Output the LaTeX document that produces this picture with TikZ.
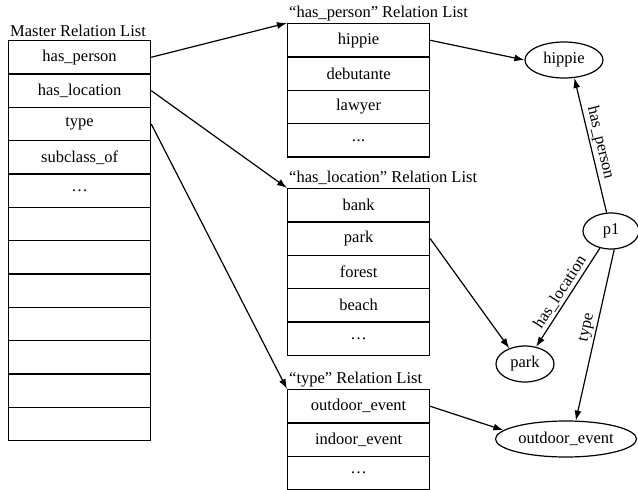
\documentclass[tikz,border=0pt]{standalone}
\usepackage{fontspec}
\setmainfont{Liberation Serif}
\usetikzlibrary{arrows.meta,shapes.geometric}
\begin{document}
\begin{tikzpicture}[x=1pt,y=-1pt,
  every node/.style={font=\fontsize{16.5}{20}\selectfont},
  cell/.style={draw, line width=1.2pt, minimum width=142pt, minimum height=33.33pt,
               inner sep=0pt, anchor=north west},
  listtitle/.style={anchor=base west, inner sep=0pt},
  oval/.style={draw, ellipse, line width=1.2pt, minimum height=36pt, inner sep=0pt},
  link/.style={line width=1.2pt, -{Latex[length=10pt,width=7pt]}},
  rel/.style={midway, sloped, above, inner sep=2pt}
]
\useasboundingbox (0,0) rectangle (638,490);

% master relation list
\node[listtitle] (mtitle) at (10,36) {Master Relation List};
\foreach \txt [count=\i] in {has\_person, has\_location, type, subclass\_of, \ldots}
  \node[cell] (m\i) at (8,{40+(\i-1)*33.333}) {\txt};
\foreach \i in {6,7,8,9,10,11,12}
  \node[cell] (m\i) at (8,{40+(\i-1)*33.333}) {};

% has_person list
\node[listtitle] (hptitle) at (289,17) {“has\_person” Relation List};
\node[cell] (hp1) at (287,23) {hippie};
\node[cell] (hp2) at (287,56.333) {debutante};
\node[cell] (hp3) at (287,89.667) {lawyer};
\node[cell] (hp4) at (287,123) {.\kern0.5pt.\kern0.5pt.};

% has_location list
\node[listtitle] (hltitle) at (289,182) {“has\_location” Relation List};
\foreach \txt [count=\i] in {bank, park, forest, beach, \ldots}
  \node[cell] (hl\i) at (287,{188+(\i-1)*33.333}) {\txt};

% type list
\node[listtitle] (ttitle) at (289,383) {“type” Relation List};
\foreach \txt [count=\i] in {outdoor\_event, indoor\_event, \ldots}
  \node[cell] (t\i) at (287,{389+(\i-1)*33.333}) {\txt};

% graph nodes
\node[oval, minimum width=78pt] (hippie) at (564,60) {hippie};
\node[oval, minimum width=56pt] (p1) at (611,231) {p1};
\node[oval, minimum width=58pt] (park) at (525,364) {park};
\node[oval, minimum width=141pt] (oe) at (566,439) {outdoor\_event};

% master list to relation lists
\draw[link] (m1.east) -- (hp1.north west);
\draw[link] (m2.east) -- (hl1.north west);
\draw[link] (m3.east) -- (t1.north west);

% list entries to graph nodes
\draw[link] (hp1.east) -- (hippie.west);
\draw[link] (hl2.east) -- (park.135);
\draw[link] (t1.east) -- (oe.172);

% relations of p1
\draw[link] (p1) -- (hippie.-60) node[rel] {has\_person};
\draw[link] (p1) -- (park) node[rel] {has\_location};
\draw[link] (p1.-80) -- (oe.62) node[rel, pos=0.47] {type};
\end{tikzpicture}
\end{document}
